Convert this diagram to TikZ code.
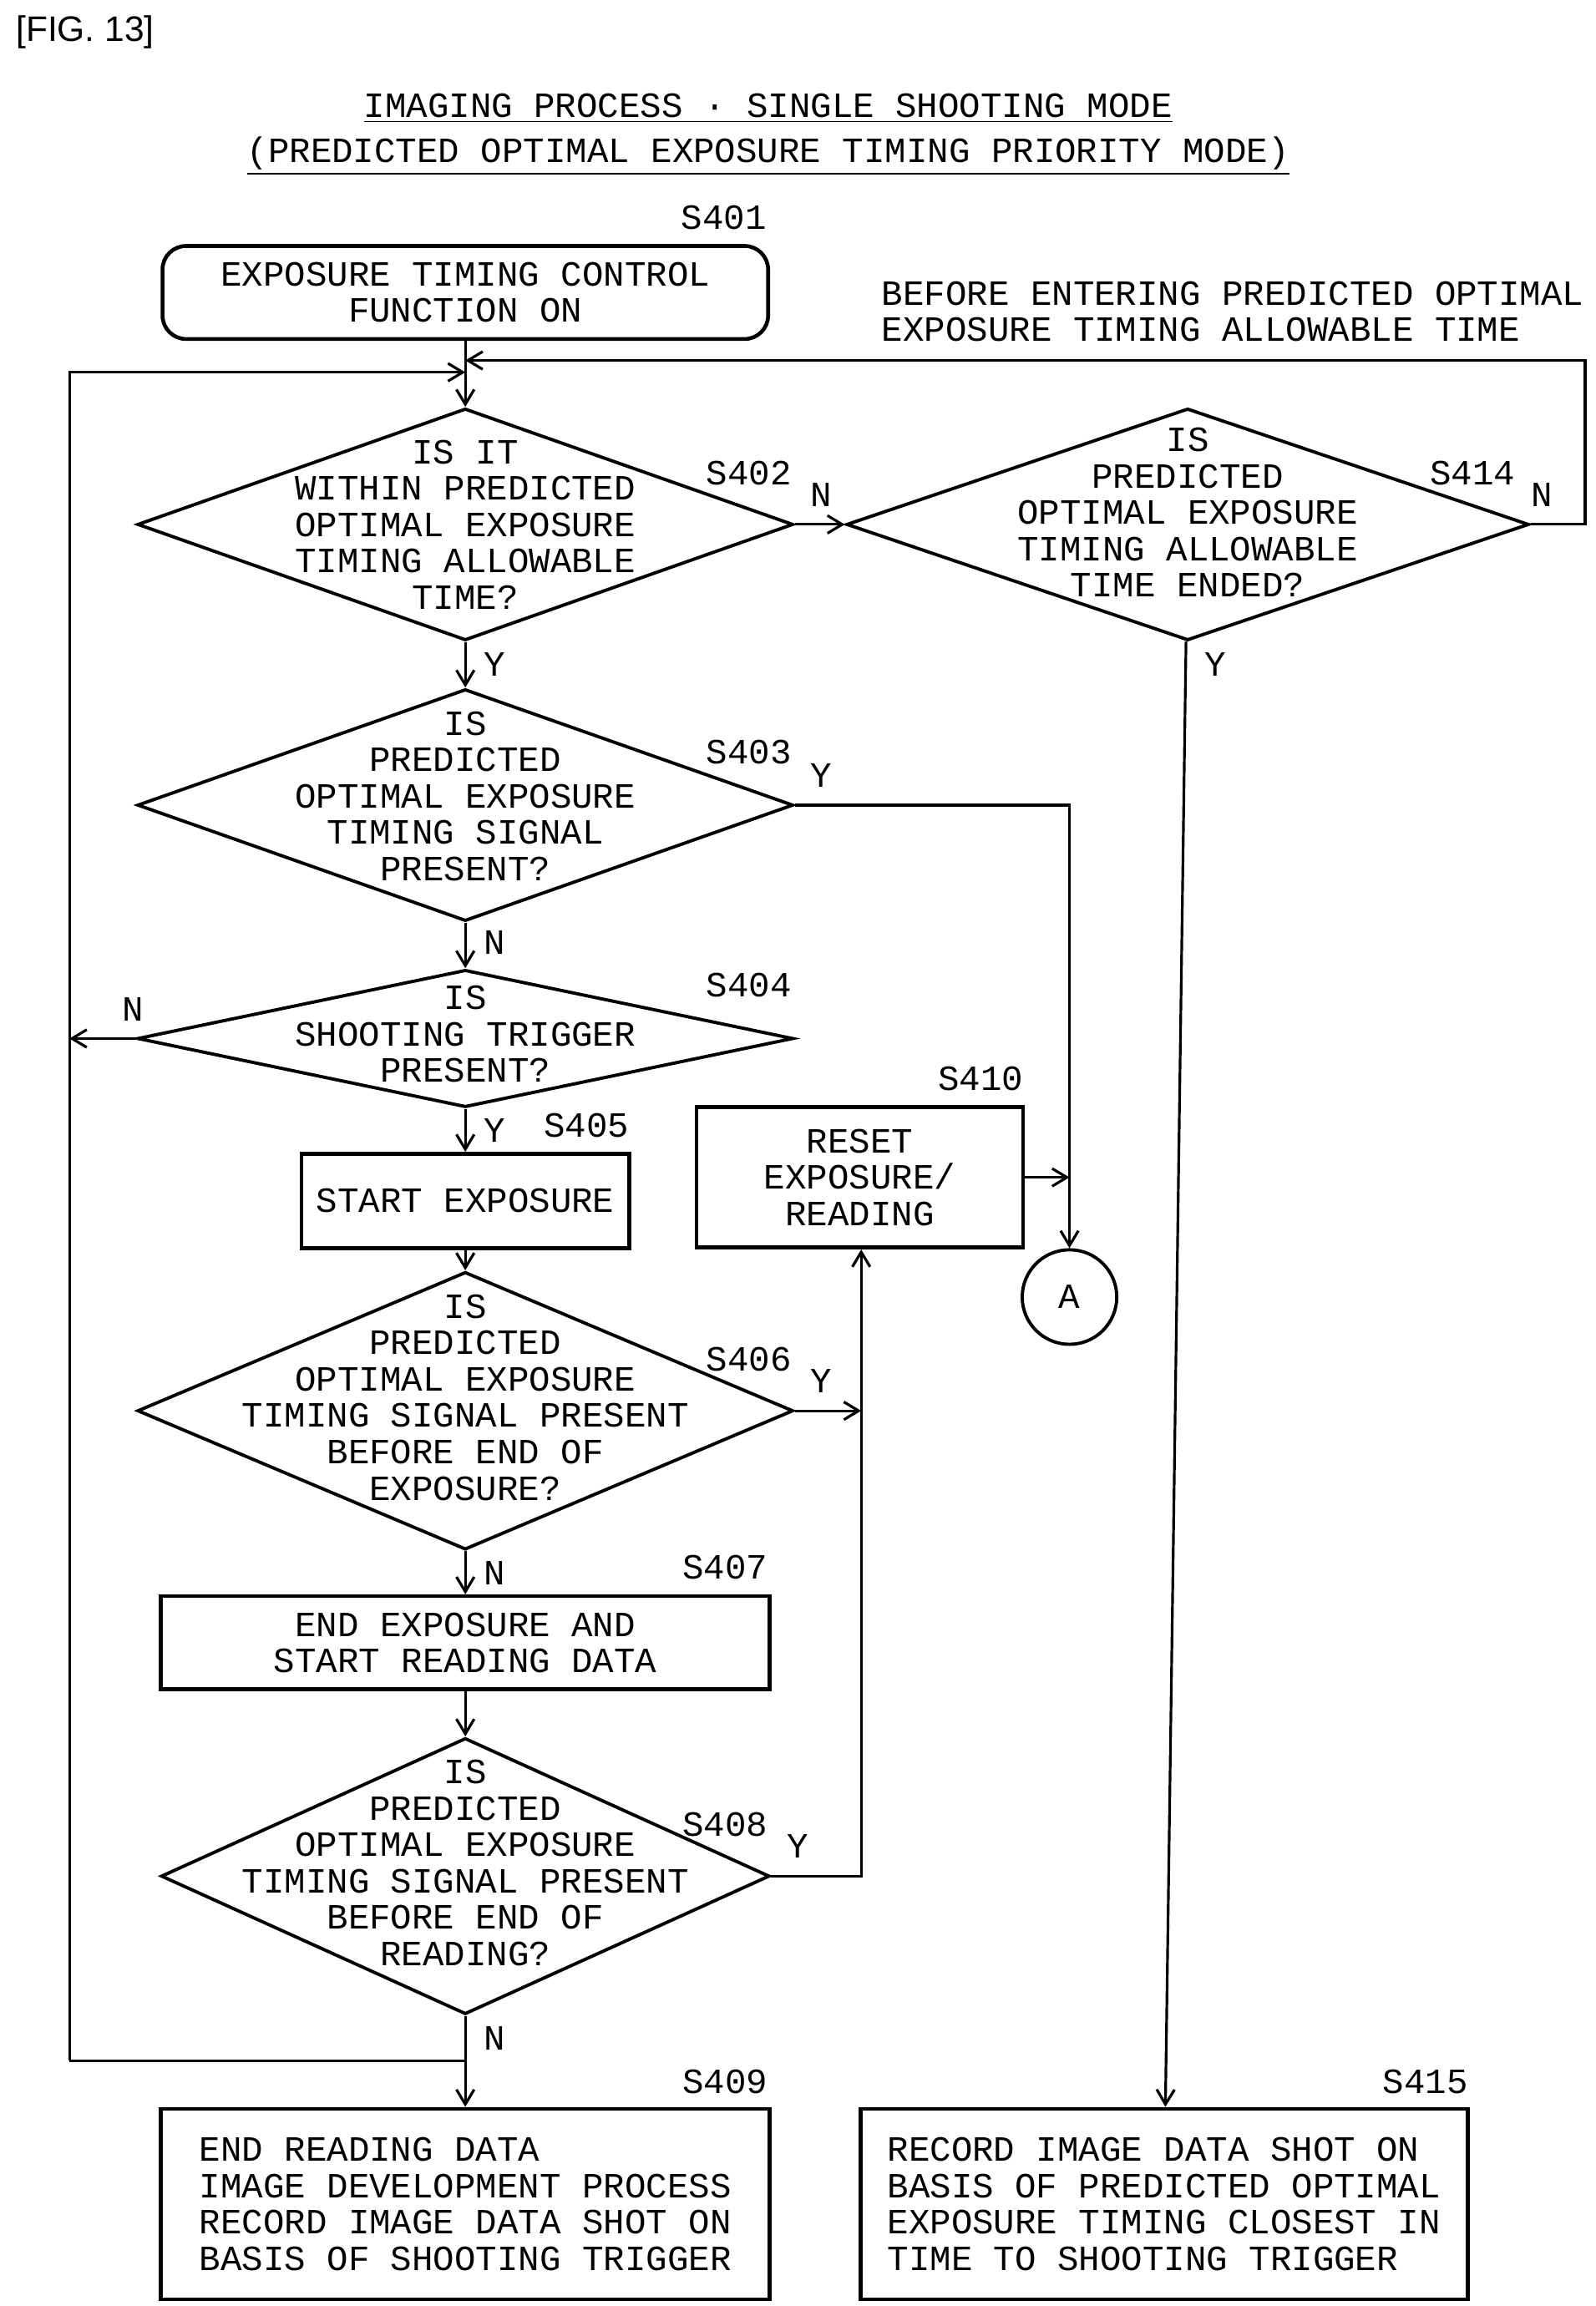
\documentclass[tikz,border=0pt]{standalone}
\usepackage{fontspec}
\setmainfont{Liberation Mono}
\newfontfamily\figfont{Liberation Sans}
\usetikzlibrary{shapes.geometric,arrows.meta}

\begin{document}
\begin{tikzpicture}[
    x=0.5pt, y=-0.5pt,
    >={Straight Barb[length=5pt,width=6pt]},
    line width=0.9pt,
    font=\fontsize{12}{12.3}\selectfont,
    box/.style={rectangle, draw, line width=1.3pt, inner sep=0pt},
    dia/.style={diamond, draw, line width=1.1pt, inner sep=0pt},
    txt/.style={align=center, inner sep=0pt},
    stepno/.style={inner sep=0pt, anchor=base},
    yn/.style={inner sep=0pt},
]
    \useasboundingbox (0,0) rectangle (1080,1561);
    \node[anchor=west, inner sep=0pt, font=\figfont\fontsize{12}{14}\selectfont] (fig) at (10,22) {[FIG. 13]};
    \node[txt] (title) at (520,91) {\underline{IMAGING PROCESS · SINGLE SHOOTING MODE}\\[3pt]\underline{(PREDICTED OPTIMAL EXPOSURE TIMING PRIORITY MODE)}};

    % process boxes
    \node[box, rounded corners=8pt, minimum width=205pt, minimum height=31.5pt] (s401) at (315,198) {};
    \node[txt] at (s401) {EXPOSURE TIMING CONTROL\\FUNCTION ON};
    \node[box, minimum width=111pt, minimum height=32pt] (s405) at (315,813) {START EXPOSURE};
    \node[box, minimum width=206pt, minimum height=31.5pt] (s407) at (315,1112) {};
    \node[txt] at (s407) {END EXPOSURE AND\\START READING DATA};
    \node[box, minimum width=206pt, minimum height=64.5pt] (s409) at (315,1492) {};
    \node[txt, align=left] at (s409) {END READING DATA\\IMAGE DEVELOPMENT PROCESS\\RECORD IMAGE DATA SHOT ON\\BASIS OF SHOOTING TRIGGER};
    \node[box, minimum width=110.5pt, minimum height=47.5pt] (s410) at (582,797) {};
    \node[txt] at (s410) {RESET\\EXPOSURE/\\READING};
    \node[box, minimum width=205.5pt, minimum height=64.5pt] (s415) at (788,1492) {};
    \node[txt, align=left] at (s415) {RECORD IMAGE DATA SHOT ON\\BASIS OF PREDICTED OPTIMAL\\EXPOSURE TIMING CLOSEST IN\\TIME TO SHOOTING TRIGGER};
    \node[circle, draw, line width=1.1pt, minimum size=32pt, inner sep=0pt] (a) at (724,878) {A};

    % decisions
    \node[dia, minimum width=222pt, minimum height=78.5pt] (s402) at (315,355) {};
    \node[txt] at (315,355) {IS IT\\WITHIN PREDICTED\\OPTIMAL EXPOSURE\\TIMING ALLOWABLE\\TIME?};
    \node[dia, minimum width=231pt, minimum height=78.5pt] (s414) at (804,355) {};
    \node[txt] at (804,347) {IS\\PREDICTED\\OPTIMAL EXPOSURE\\TIMING ALLOWABLE\\TIME ENDED?};
    \node[dia, minimum width=222pt, minimum height=78.5pt] (s403) at (315,545) {};
    \node[txt] at (315,539) {IS\\PREDICTED\\OPTIMAL EXPOSURE\\TIMING SIGNAL\\PRESENT?};
    \node[dia, minimum width=222pt, minimum height=46.5pt] (s404) at (315,703) {};
    \node[txt] at (315,700) {IS\\SHOOTING TRIGGER\\PRESENT?};
    \node[dia, minimum width=222pt, minimum height=94pt] (s406) at (315,955) {};
    \node[txt] at (315,946) {IS\\PREDICTED\\OPTIMAL EXPOSURE\\TIMING SIGNAL PRESENT\\BEFORE END OF\\EXPOSURE?};
    \node[dia, minimum width=206pt, minimum height=93.5pt] (s408) at (315,1270) {};
    \node[txt] at (315,1261) {IS\\PREDICTED\\OPTIMAL EXPOSURE\\TIMING SIGNAL PRESENT\\BEFORE END OF\\READING?};

    % step numbers
    \node[stepno] at (490,155) {S401};
    \node[stepno] at (507,328) {S402};
    \node[stepno] at (507,517) {S403};
    \node[stepno] at (507,675) {S404};
    \node[stepno] at (397,770) {S405};
    \node[stepno] at (507,928) {S406};
    \node[stepno] at (491,1069) {S407};
    \node[stepno] at (491,1243) {S408};
    \node[stepno] at (491,1417) {S409};
    \node[stepno] at (664,738) {S410};
    \node[stepno] at (997,328) {S414};
    \node[stepno] at (965,1417) {S415};
    \node[txt, align=left, anchor=west] (note) at (596,211) {BEFORE ENTERING PREDICTED OPTIMAL\\EXPOSURE TIMING ALLOWABLE TIME};

    % junctions
    \coordinate (top1) at (315,244);
    \coordinate (top2) at (315,252);
    \coordinate (left) at (47,252);
    \coordinate (ret) at (47,1395);
    \coordinate (bot) at (315,1395);
    \coordinate (join) at (583,955);
    \coordinate (join2) at (583,1270);

    % connectors
    \draw[->] (s401) -- (s402);
    \draw[->] (s414.east) -- ++(37,0) |- (top1);
    \draw[->] (ret) -- (left) -- (top2);
    \draw[->] (s402.east) -- (s414.west);
    \draw[->] (s402) -- (s403);
    \draw[->] (s403.east) -| (a);
    \draw[->] (s403) -- (s404);
    \draw[->] (s404.west) -- (47,703);
    \draw[->] (s404) -- (s405);
    \draw[->] (s405) -- (s406);
    \draw[->] (s406.east) -- (join);
    \draw[->] (s408.east) -- (join2) -- (s410.south -| join2);
    \draw[->] (s406) -- (s407);
    \draw[->] (s407) -- (s408);
    \draw[->] (s408) -- (s409);
    \draw (bot) -- (ret);
    \draw[->] (s410.east) -- (a.north |- s410.east);
    \draw[->] (s414) -- (s415);

    % branch labels
    \node[yn] at (556,335) {N};
    \node[yn] at (1044,335) {N};
    \node[yn] at (335,450) {Y};
    \node[yn] at (823,450) {Y};
    \node[yn] at (556,525) {Y};
    \node[yn] at (335,638) {N};
    \node[yn] at (90,683) {N};
    \node[yn] at (335,765) {Y};
    \node[yn] at (556,935) {Y};
    \node[yn] at (335,1065) {N};
    \node[yn] at (540,1250) {Y};
    \node[yn] at (335,1380) {N};
\end{tikzpicture}
\end{document}
